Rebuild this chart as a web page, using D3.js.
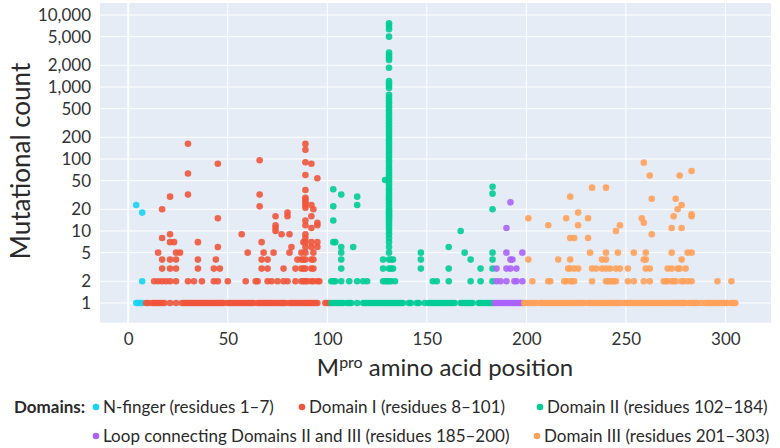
<!DOCTYPE html>
<html>
<head>
<meta charset="utf-8">
<script src="https://cdn.jsdelivr.net/npm/d3@7"></script>
<style>
  body { margin: 0; background: #fff; }
  svg { font-family: Lato, "Open Sans", sans-serif; }
</style>
</head>
<body>
<svg width="780" height="448"></svg>
<script>
var plotLeft   = 100,
    plotRight  = 771,
    plotTop    = 3,
    plotBottom = 322.7,
    dotR       = 3.3;

// tick labels
var xTicks = [0, 50, 100, 150, 200, 250, 300],
    yTicks = [1, 2, 5, 10, 20, 50, 100, 200, 500, 1000, 2000, 5000, 10000];

// legend entries
var domainNames  = ['N-finger (residues 1\u20137)', 'Domain I (residues 8\u2013101)', 'Domain II (residues 102\u2013184)',
                    'Loop connecting Domains II and III (residues 185\u2013200)', 'Domain III (residues 201\u2013303)'],
    domainColors = ['#19d3f3', '#ef553b', '#00cc96', '#ab63fa', '#ffa15a'];

// positions that have a single-count mutation, per domain
var nFingerOnes = [4, 5, 6, 7];
var domainIOnes = [9, 10, 12, 13, 14, 15, 16, 17, 18, 21, 24, 27, 28, 29, 30, 31, 32, 33, 34, 35, 36, 37, 38, 39, 40,
                   41, 42, 43, 44, 45, 46, 47, 48, 50, 51, 52, 53, 54, 55, 56, 57, 58, 59, 60, 61, 62, 63, 65, 66, 67,
                   68, 69, 70, 71, 72, 73, 74, 75, 76, 77, 78, 79, 81, 82, 83, 84, 85, 86, 87, 88, 89, 90, 91, 92, 93,
                   94, 95, 99, 100, 101];
var domainIIOnes = [102, 103, 104, 105, 106, 107, 108, 110, 111, 112, 115, 118, 119, 120, 121, 122, 123, 124, 125, 126,
                    127, 128, 129, 130, 131, 132, 133, 134, 135, 136, 137, 138, 141, 142, 145, 146, 149, 151, 152, 153,
                    154, 155, 156, 157, 158, 159, 160, 161, 162, 163, 164, 167, 168, 169, 170, 171, 172, 173, 176, 177,
                    178, 179, 180, 181, 182, 183];
var loopOnes = [184, 185, 186, 187, 188, 189, 190, 191, 192, 193, 194, 195, 196, 197, 198];
var domainIIIOnes = [199, 200, 201, 202, 203, 204, 205, 207, 208, 209, 210, 211, 212, 213, 214, 215, 216, 217, 218, 219,
                     220, 221, 222, 223, 224, 225, 226, 227, 228, 229, 231, 232, 233, 234, 235, 236, 237, 238, 239, 240,
                     241, 242, 243, 244, 245, 246, 247, 249, 250, 251, 252, 253, 254, 255, 256, 257, 258, 259, 260, 261,
                     262, 263, 264, 265, 266, 267, 268, 269, 270, 271, 272, 273, 274, 275, 276, 277, 278, 279, 280, 282,
                     283, 284, 285, 286, 288, 290, 291, 292, 293, 294, 295, 296, 297, 298, 299, 300, 301, 303, 304, 305];

// [position, count] for counts above one
var nFingerPts = [[4, 23], [7, 18], [7, 2]];
var domainIPts = [
  [13, 2], [15, 2], [17, 2], [19, 2], [21, 2], [24, 2], [30, 2], [33, 2], [37, 2], [43, 2], [45, 2], [50, 2], [59, 2],
  [64, 2], [65, 2], [70, 2], [72, 2], [75, 2], [78, 2], [80, 2], [84, 2], [87, 2], [88, 2], [89, 2], [90, 2], [92, 2],
  [93, 2], [95, 2], [96, 2],
  [17, 3], [21, 3], [24, 3], [35, 3], [43, 3], [46, 3], [67, 3], [70, 3], [78, 3], [84, 3], [87, 3], [88, 3], [89, 3],
  [92, 3], [93, 3],
  [17, 4], [21, 4], [24, 4], [35, 4], [44, 4], [67, 4], [70, 4], [85, 4], [87, 4], [88, 4], [89, 4], [92, 4], [93, 4],
  [15, 5], [24, 5], [26, 5], [60, 5], [68, 5], [73, 5], [81, 5], [87, 5], [89, 5], [93, 5],
  [45, 6], [82, 6], [89, 6], [92, 6], [95, 6],
  [21, 7], [23, 7], [35, 7], [67, 7], [88, 7], [89, 7], [92, 7], [95, 7],
  [17, 8], [89, 8],
  [21, 9], [57, 9], [77, 9], [81, 9], [89, 9],
  [74, 10], [74, 11], [74, 12], [92, 11], [95, 12], [95, 13], [89, 12], [89, 14], [45, 15], [74, 16], [80, 16],
  [80, 18], [92, 16], [17, 20], [93, 20], [89, 21], [66, 22], [92, 23], [89, 23], [89, 25], [89, 27], [89, 29],
  [21, 30], [30, 32], [66, 32], [89, 37], [95, 54], [89, 60], [30, 63], [45, 86], [92, 86], [89, 90], [66, 96],
  [89, 134], [30, 163], [89, 162]
];
var domainIIPts = [
  [102, 2], [103, 2], [104, 2], [107, 2], [111, 2], [115, 2], [118, 2], [120, 2], [128, 2], [129, 2], [130, 2],
  [132, 2], [134, 2], [153, 2], [155, 2], [161, 2], [172, 2], [177, 2], [183, 2],
  [107, 3], [128, 3], [132, 3], [133, 3], [147, 3], [161, 3], [177, 3], [183, 3],
  [107, 4], [128, 4], [132, 4], [133, 4], [147, 4], [172, 4], [183, 4],
  [107, 5], [147, 5], [169, 5], [183, 5],
  [107, 6], [113, 6], [161, 6],
  [103, 7], [104, 7],
  [167, 10], [103, 14], [183, 20], [103, 22], [115, 23], [115, 30], [107, 32], [183, 33], [103, 38], [183, 41],
  [129, 51]
];
// residue 131 column
var col131Counts = [2, 3, 4, 5, 6, 7, 8, 9, 10, 11, 12, 13, 14, 15, 16, 17, 18, 19, 20, 22, 24, 26, 28, 30, 33, 36,
                    39, 43, 47, 51, 56, 61, 67, 73, 80, 88, 96, 105, 115, 126, 138, 151, 165, 181, 198, 217, 238, 261,
                    286, 313, 343, 376, 412, 451, 494, 541, 593, 650, 712, 780, 968, 1043, 1124, 1212, 1855, 2370,
                    2570, 2780, 3000, 5000, 6330, 7030, 7670];
var loopPts = [[192, 25], [190, 11], [190, 5], [198, 5], [192, 4], [193, 4], [185, 3], [190, 3], [192, 3], [195, 3],
               [185, 2], [187, 2], [190, 2], [194, 2], [195, 2], [198, 2]];
var domainIIIPts = [
  [203, 2], [211, 2], [212, 2], [219, 2], [220, 2], [222, 2], [223, 2], [224, 2], [233, 2], [240, 2], [241, 2],
  [242, 2], [243, 2], [244, 2], [245, 2], [251, 2], [254, 2], [259, 2], [262, 2], [269, 2], [270, 2], [271, 2],
  [273, 2], [274, 2], [275, 2], [278, 2], [279, 2], [281, 2], [283, 2], [296, 2], [303, 2],
  [221, 3], [222, 3], [224, 3], [226, 3], [233, 3], [235, 3], [238, 3], [240, 3], [242, 3], [245, 3], [247, 3],
  [251, 3], [260, 3], [262, 3], [271, 3], [273, 3], [276, 3], [277, 3], [280, 3],
  [201, 4], [216, 4], [222, 4], [238, 4], [240, 4], [259, 4], [260, 4], [278, 4],
  [232, 5], [240, 5], [246, 5], [254, 5], [260, 5], [273, 5], [281, 5], [283, 5],
  [222, 8], [224, 8], [231, 8], [263, 9], [245, 10], [273, 11], [278, 11], [211, 12], [226, 12], [247, 12],
  [259, 13], [201, 15], [220, 15], [231, 15], [258, 15], [274, 16], [283, 16], [283, 17], [226, 18], [276, 20],
  [278, 23], [263, 28], [275, 28], [222, 30], [233, 40], [240, 40], [262, 59], [277, 59], [283, 68], [259, 89]
];

function ones(list) { return list.map(function(p) { return [p, 1]; }); }

var traces = [
  nFingerPts.concat(ones(nFingerOnes)),
  domainIPts.concat(ones(domainIOnes)),
  domainIIPts.concat(ones(domainIIOnes), col131Counts.map(function(c) { return [131, c]; })),
  loopPts.concat(ones(loopOnes)),
  domainIIIPts.concat(ones(domainIIIOnes))
];

var x = d3.scaleLinear().domain([-14.2, 322.9]).range([plotLeft, plotRight]),
    y = d3.scaleLog().domain([0.532, 14680]).range([plotBottom, plotTop]);

var svg = d3.select('svg');

svg.append('rect')
  .attr('x', plotLeft).attr('y', plotTop)
  .attr('width', plotRight - plotLeft).attr('height', plotBottom - plotTop)
  .attr('fill', '#e5ecf6');

var grid = svg.append('g').attr('stroke', '#fff');
grid.selectAll('line.y').data(yTicks).enter().append('line')
  .attr('x1', plotLeft).attr('x2', plotRight)
  .attr('y1', function(d) { return y(d); }).attr('y2', function(d) { return y(d); })
  .attr('stroke-width', 1);
grid.selectAll('line.x').data(xTicks).enter().append('line')
  .attr('y1', plotTop).attr('y2', plotBottom)
  .attr('x1', function(d) { return x(d); }).attr('x2', function(d) { return x(d); })
  .attr('stroke-width', function(d) { return d === 0 ? 2 : 1; });

var xAxis = svg.append('g')
  .attr('transform', 'translate(0,' + plotBottom + ')')
  .call(d3.axisBottom(x).tickValues(xTicks).tickSize(0).tickPadding(10));
var yAxis = svg.append('g')
  .attr('transform', 'translate(' + plotLeft + ',0)')
  .call(d3.axisLeft(y).tickValues(yTicks).tickSize(0).tickPadding(9).tickFormat(d3.format(',')));
[xAxis, yAxis].forEach(function(a) {
  a.select('.domain').remove();
  a.selectAll('text').attr('font-size', 17).attr('fill', '#333').attr('font-family', 'Lato');
});

var plot = svg.append('g');
traces.forEach(function(pts, i) {
  plot.append('g').selectAll('circle').data(pts).enter().append('circle')
    .attr('cx', function(d) { return x(d[0]); })
    .attr('cy', function(d) { return y(d[1]); })
    .attr('r', dotR)
    .attr('fill', domainColors[i])
    .attr('opacity', 0.9);
});

// axis titles
var xt = svg.append('text')
  .attr('x', 445).attr('y', 376)
  .attr('text-anchor', 'middle')
  .attr('font-size', 24).attr('fill', '#2a2a2a');
xt.append('tspan').text('M');
xt.append('tspan').attr('font-size', 16).attr('dy', -8).text('pro');
xt.append('tspan').attr('dy', 8).text(' amino acid position');

svg.append('text')
  .attr('transform', 'translate(30,161) rotate(-90)')
  .attr('text-anchor', 'middle')
  .attr('font-size', 26).attr('fill', '#2a2a2a')
  .text('Mutational count');

// legend
var legend = svg.append('g').attr('font-size', 17).attr('fill', '#2a2a2a');
legend.append('text').attr('x', 14).attr('y', 413).attr('font-weight', 'bold').text('Domains:');
var legendPos = [[96, 407], [302, 407], [540, 407], [96, 436], [537, 436]];
domainNames.forEach(function(name, i) {
  var g = legend.append('g').attr('transform', 'translate(' + legendPos[i][0] + ',' + legendPos[i][1] + ')');
  g.append('circle').attr('r', dotR).attr('fill', domainColors[i]);
  g.append('text').attr('x', 7).attr('y', 6).text(name);
});
</script>
</body>
</html>
